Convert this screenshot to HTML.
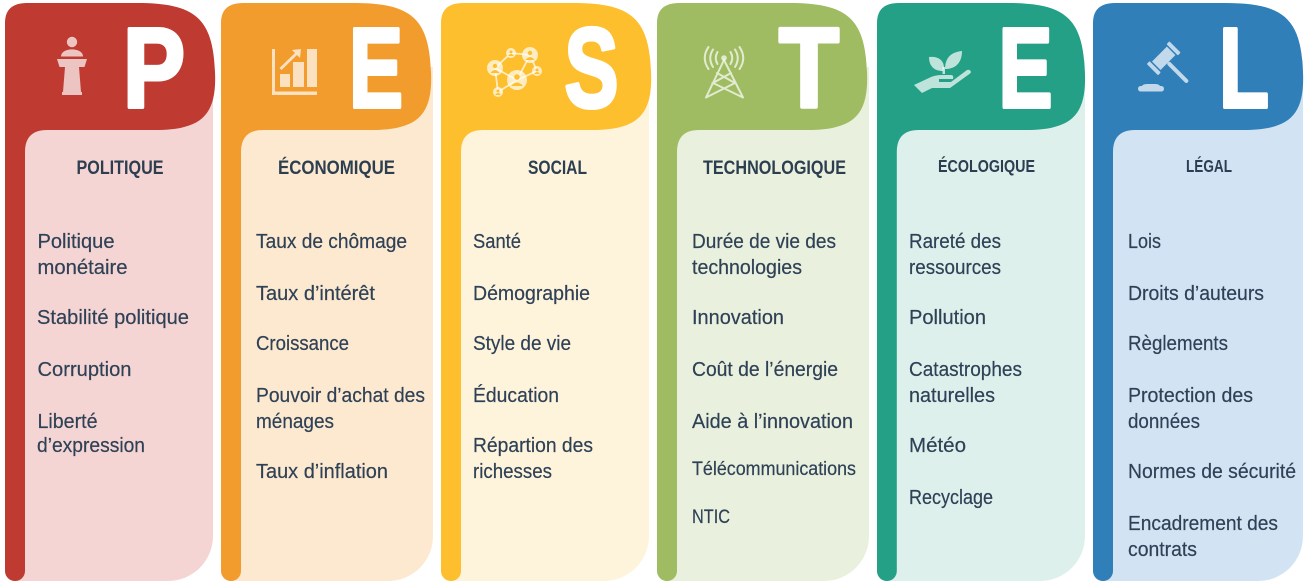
<!DOCTYPE html>
<html lang="fr">
<head>
<meta charset="utf-8">
<title>Analyse PESTEL</title>
<style>
html,body{margin:0;padding:0;background:#fff;width:1312px;height:588px;overflow:hidden}
svg{display:block}
text{font-family:"Liberation Sans",sans-serif}
.item{font-size:20.5px;fill:#2f4156;stroke:#2f4156;stroke-width:.2}
.title{font-size:19px;font-weight:bold;fill:#2c3e50;text-anchor:start}
.big{font-size:113px;font-weight:bold;fill:#fff;stroke:#fff;stroke-width:4;stroke-linejoin:round}
.ic{fill:#fff;fill-opacity:.7}
.icl{fill:none;stroke:#fff;stroke-opacity:.7;stroke-linecap:round}
</style>
</head>
<body>
<svg width="1312" height="588" viewBox="0 0 1312 588">
<defs>
<path id="shape" d="M0 23 Q0 3 22 3 L132 3 C190 3 208 18 210 72 C212 116 196 130 150 130 L42 130 Q20 130 20 152 L20 571 A10 10 0 0 1 0 571 Z"/>
</defs>

<!-- POLITIQUE -->
<g>
<path d="M10 60 H213 V536 A45 45 0 0 1 168 581 H15 Q10 581 10 570 Z" fill="#f4d5d3"/>
<use href="#shape" x="5" fill="#bf3a31"/>
<text class="big" x="123" y="107" textLength="62" lengthAdjust="spacingAndGlyphs">P</text>
<g class="ic">
<circle cx="72" cy="42" r="5.200"/>
<path d="M61 56.500 C61 47 83 47 83 56.500 Z"/>
<path d="M57 59 H87 L84.500 67 H59.500 Z"/>
<path d="M65 67 H79 L81 92 H63 Z"/>
<rect x="62" y="92" width="20" height="3"/>
</g>
<text class="title" x="76.500" y="174" textLength="87" lengthAdjust="spacingAndGlyphs">POLITIQUE</text>
<text class="item" x="37.500" y="248" textLength="77" lengthAdjust="spacingAndGlyphs">Politique</text>
<text class="item" x="37.500" y="274" textLength="90" lengthAdjust="spacingAndGlyphs">monétaire</text>
<text class="item" x="37" y="324" textLength="152" lengthAdjust="spacingAndGlyphs">Stabilité politique</text>
<text class="item" x="37.500" y="376" textLength="94" lengthAdjust="spacingAndGlyphs">Corruption</text>
<text class="item" x="37.500" y="428" textLength="60" lengthAdjust="spacingAndGlyphs">Liberté</text>
<text class="item" x="37" y="452" textLength="108" lengthAdjust="spacingAndGlyphs">d’expression</text>
</g>

<!-- ECONOMIQUE -->
<g>
<path d="M226 67 H433 V536 A45 45 0 0 1 388 581 H231 Q226 581 226 570 Z" fill="#fce9cf"/>
<use href="#shape" x="221" fill="#f29c2d"/>
<text class="big" x="349" y="107" textLength="54" lengthAdjust="spacingAndGlyphs">E</text>
<g class="ic">
<path d="M272 49 H275 V91.500 H317 V95 H272 Z"/>
<rect x="280" y="74" width="10" height="13"/>
<rect x="293" y="62" width="11" height="25"/>
<rect x="307" y="49" width="10" height="38"/>
<path d="M279.500 68 L295 53 L292 50 L301 49 L300 58 L297 55 L281.500 70 Z"/>
</g>
<text class="title" x="278" y="174" textLength="117" lengthAdjust="spacingAndGlyphs">ÉCONOMIQUE</text>
<text class="item" x="256" y="248" textLength="151" lengthAdjust="spacingAndGlyphs">Taux de chômage</text>
<text class="item" x="256" y="300" textLength="119" lengthAdjust="spacingAndGlyphs">Taux d’intérêt</text>
<text class="item" x="256" y="350" textLength="93" lengthAdjust="spacingAndGlyphs">Croissance</text>
<text class="item" x="256" y="402" textLength="169" lengthAdjust="spacingAndGlyphs">Pouvoir d’achat des</text>
<text class="item" x="256" y="428" textLength="78" lengthAdjust="spacingAndGlyphs">ménages</text>
<text class="item" x="256" y="478" textLength="132" lengthAdjust="spacingAndGlyphs">Taux d’inflation</text>
</g>

<!-- SOCIAL -->
<g>
<path d="M446 60 H649 V536 A45 45 0 0 1 604 581 H451 Q446 581 446 570 Z" fill="#fef4dc"/>
<use href="#shape" x="441" fill="#febf2e"/>
<text class="big" x="564.500" y="107" textLength="54" lengthAdjust="spacingAndGlyphs">S</text>
<g>
<g class="icl" stroke-width="1.800">
<path d="M495 68 L511 53 L530 55 L517 80 L495 68 L498 92 L517 80 L537 71 L530 55"/>
</g>
<g class="ic">
<circle cx="495" cy="68" r="8"/><circle cx="530" cy="55" r="8"/>
<circle cx="511" cy="53" r="5"/><circle cx="537" cy="71" r="5"/>
<circle cx="498" cy="92" r="5"/><circle cx="517" cy="80" r="10"/>
</g>
<g fill="#febf2e">
<circle cx="517" cy="77" r="2.800"/><path d="M511 86 Q517 79 523 86 Z"/>
<circle cx="495" cy="66" r="2.200"/><path d="M490.500 73 Q495 67 499.500 73 Z"/>
<circle cx="530" cy="53" r="2.200"/><path d="M525.500 60 Q530 54 534.500 60 Z"/>
<circle cx="511" cy="52" r="1.500"/><path d="M508 56 Q511 52 514 56 Z"/>
<circle cx="537" cy="70" r="1.500"/><path d="M534 74 Q537 70 540 74 Z"/>
<circle cx="498" cy="91" r="1.500"/><path d="M495 95 Q498 91 501 95 Z"/>
</g>
</g>
<text class="title" x="528" y="174" textLength="59" lengthAdjust="spacingAndGlyphs">SOCIAL</text>
<text class="item" x="473" y="248" textLength="48" lengthAdjust="spacingAndGlyphs">Santé</text>
<text class="item" x="473" y="300" textLength="117" lengthAdjust="spacingAndGlyphs">Démographie</text>
<text class="item" x="473" y="350" textLength="98" lengthAdjust="spacingAndGlyphs">Style de vie</text>
<text class="item" x="473" y="402" textLength="86" lengthAdjust="spacingAndGlyphs">Éducation</text>
<text class="item" x="473" y="452" textLength="120" lengthAdjust="spacingAndGlyphs">Répartion des</text>
<text class="item" x="473" y="478" textLength="79" lengthAdjust="spacingAndGlyphs">richesses</text>
</g>

<!-- TECHNOLOGIQUE -->
<g>
<path d="M662 67 H869 V536 A45 45 0 0 1 824 581 H667 Q662 581 662 570 Z" fill="#e9f0dd"/>
<use href="#shape" x="657" fill="#9fbc62"/>
<text class="big" x="779" y="107" textLength="60" lengthAdjust="spacingAndGlyphs">T</text>
<g>
<g class="icl" stroke-width="2">
<path d="M724 60 L706 97.500 M724 60 L743 97.500 M706 97.500 L735 83 L717 73 M743 97.500 L713 83 L731 73"/>
<path d="M717.500 52 Q714 58 717.500 64 M730.500 52 Q734 58 730.500 64"/>
<path d="M713 49.500 Q707.500 58 713 67 M735 49.500 Q740.500 58 735 67"/>
<path d="M708.500 47 Q701 58 708.500 69 M739.500 47 Q747 58 739.500 69"/>
</g>
<circle class="ic" cx="724" cy="58" r="2.800"/>
</g>
<text class="title" x="703" y="174" textLength="143" lengthAdjust="spacingAndGlyphs">TECHNOLOGIQUE</text>
<text class="item" x="692" y="248" textLength="144" lengthAdjust="spacingAndGlyphs">Durée de vie des</text>
<text class="item" x="692" y="274" textLength="110" lengthAdjust="spacingAndGlyphs">technologies</text>
<text class="item" x="692" y="324" textLength="92" lengthAdjust="spacingAndGlyphs">Innovation</text>
<text class="item" x="692" y="376" textLength="146" lengthAdjust="spacingAndGlyphs">Coût de l’énergie</text>
<text class="item" x="692" y="428" textLength="161" lengthAdjust="spacingAndGlyphs">Aide à l’innovation</text>
<text class="item" style="font-size:19px" x="692" y="475" textLength="164" lengthAdjust="spacingAndGlyphs">Télécommunications</text>
<text class="item" style="font-size:19px" x="692" y="523" textLength="38" lengthAdjust="spacingAndGlyphs">NTIC</text>
</g>

<!-- ECOLOGIQUE -->
<g>
<path d="M882 60 H1085 V536 A45 45 0 0 1 1040 581 H887 Q882 581 882 570 Z" fill="#def0eb"/>
<use href="#shape" transform="translate(877 0) scale(.99 1)" fill="#23a085"/>
<text class="big" x="998.500" y="107" textLength="54" lengthAdjust="spacingAndGlyphs">E</text>
<g class="ic">
<path d="M943 71 C934 71 929 66 929 57 C938 56 944 60 944 68 Z"/>
<path d="M945 69 C945 58 951 52 962 51 C962 60 958 68 947 69 Z"/>
<rect x="942.500" y="67" width="2.500" height="7"/>
<path d="M914 85 L931 77 Q936 75 942 75 H951 Q954 75 953 79 H939 V82 H951 L967 70 Q970 69 971 72 Q971 73 968 75 L950 88 H932 L922 93 Z"/>
</g>
<text class="title" style="font-size:17.500px" x="938" y="172" textLength="97" lengthAdjust="spacingAndGlyphs">ÉCOLOGIQUE</text>
<text class="item" x="909" y="248" textLength="92" lengthAdjust="spacingAndGlyphs">Rareté des</text>
<text class="item" x="909" y="274" textLength="92" lengthAdjust="spacingAndGlyphs">ressources</text>
<text class="item" x="909" y="324" textLength="77" lengthAdjust="spacingAndGlyphs">Pollution</text>
<text class="item" x="909" y="376" textLength="113" lengthAdjust="spacingAndGlyphs">Catastrophes</text>
<text class="item" x="909" y="402" textLength="86" lengthAdjust="spacingAndGlyphs">naturelles</text>
<text class="item" x="909" y="452" textLength="57" lengthAdjust="spacingAndGlyphs">Météo</text>
<text class="item" x="909" y="504" textLength="84" lengthAdjust="spacingAndGlyphs">Recyclage</text>
</g>

<!-- LEGAL -->
<g>
<path d="M1098 60 H1303 V536 A45 45 0 0 1 1258 581 H1103 Q1098 581 1098 570 Z" fill="#d2e4f3"/>
<use href="#shape" x="1093" fill="#317fb8"/>
<text class="big" x="1219" y="107" textLength="50" lengthAdjust="spacingAndGlyphs">L</text>
<g class="ic">
<g transform="translate(1163.700 58.300) rotate(45)">
<rect x="-8" y="-16" width="16" height="4" rx="1"/>
<rect x="-8" y="12" width="16" height="4" rx="1"/>
<rect x="-6" y="-10.500" width="12" height="21"/>
<rect x="6" y="-2" width="28" height="4" rx="2"/>
</g>
<rect x="1138" y="86" width="26" height="5.500" rx="2.700"/>
<path d="M1142 86 Q1143 84 1147 84 H1155 Q1159 84 1160 86 Z"/>
</g>
<text class="title" style="font-size:17.500px" x="1186" y="172" textLength="46" lengthAdjust="spacingAndGlyphs">LÉGAL</text>
<text class="item" x="1128" y="248" textLength="33" lengthAdjust="spacingAndGlyphs">Lois</text>
<text class="item" x="1128" y="300" textLength="136" lengthAdjust="spacingAndGlyphs">Droits d’auteurs</text>
<text class="item" x="1128" y="350" textLength="100" lengthAdjust="spacingAndGlyphs">Règlements</text>
<text class="item" x="1128" y="402" textLength="125" lengthAdjust="spacingAndGlyphs">Protection des</text>
<text class="item" x="1128" y="428" textLength="72" lengthAdjust="spacingAndGlyphs">données</text>
<text class="item" x="1128" y="478" textLength="168" lengthAdjust="spacingAndGlyphs">Normes de sécurité</text>
<text class="item" x="1128" y="530" textLength="150" lengthAdjust="spacingAndGlyphs">Encadrement des</text>
<text class="item" x="1128" y="556" textLength="69" lengthAdjust="spacingAndGlyphs">contrats</text>
</g>
</svg>
</body>
</html>
